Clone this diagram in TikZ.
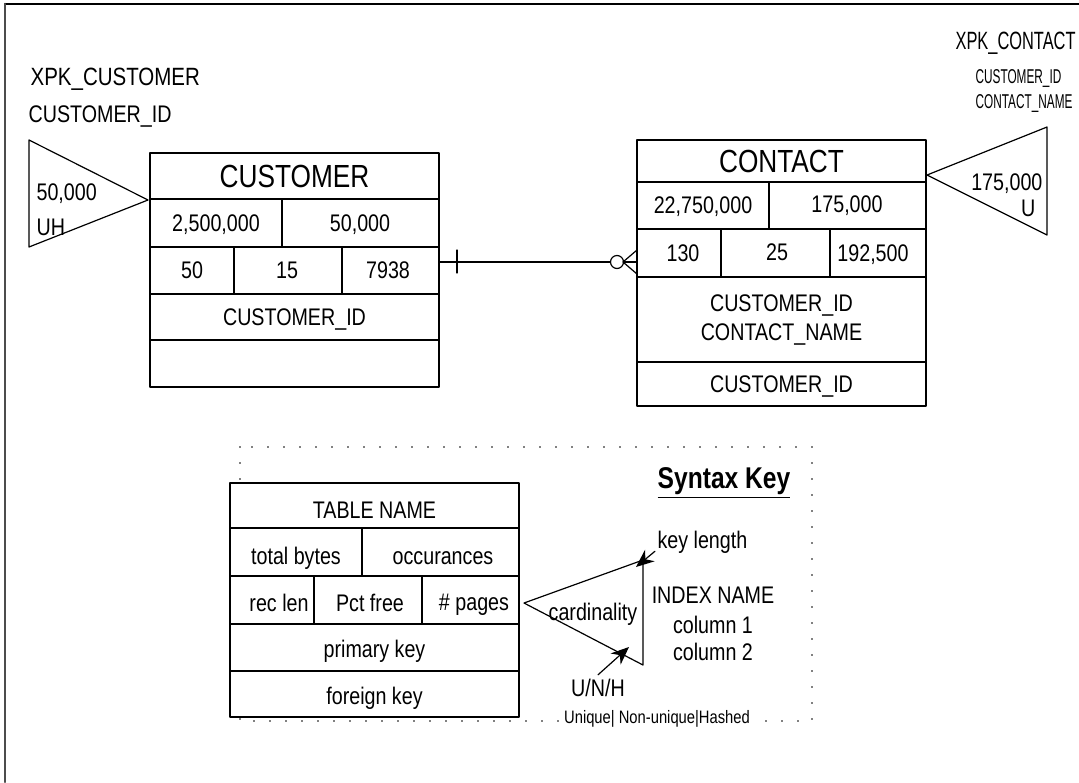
\documentclass[tikz,border=0pt]{standalone}
\usepackage{graphicx}
\usepackage{fontspec}
\setmainfont{Liberation Sans}[FakeStretch=0.82]
\usetikzlibrary{arrows.meta}
\newcommand\squeezed[2]{\scalebox{#1}[1]{#2}}

\begin{document}
\begin{tikzpicture}[x = 0.5pt, y = -0.5pt, line cap = round, line join = round, line width = 0.6pt,
        cell/.style = {inner sep = 0pt, text height = 8.6pt, text depth = 0pt, font = \fontsize{12}{14}\selectfont},
        tabtitle/.style = {inner sep = 0pt, text height = 11.5pt, text depth = 0pt, font = \fontsize{16}{18}\selectfont},
        idxtitle/.style = {inner sep = 0pt, text height = 9pt, text depth = 0pt, font = \fontsize{12.5}{15}\selectfont},
        idxsmall/.style = {inner sep = 0pt, text height = 7.2pt, text depth = 0pt, font = \fontsize{10}{12}\selectfont},
        tiny/.style = {inner sep = 0pt, text height = 6.5pt, text depth = 0pt, font = \fontsize{9}{11}\selectfont},
        pointer/.style = {-{Stealth[length = 9pt, width = 7.5pt]}}]
        %
        \useasboundingbox (0, 0) rectangle (1079, 782);
        \def\CustL{150}
        \def\CustR{439}
        \def\ContL{637}
        \def\ContR{926}
        \def\LinkY{262}

        % frame
        \draw [line width = 1pt] (5, 4) -- (1079, 4);
        \draw [line width = 1.3pt, black!70] (5, 4) -- (5, 782);

        % customer
        \begin{scope}[local bounding box = customer]
            \draw (\CustL, 153) rectangle (\CustR, 387);
            \foreach \y in {199, 247, 294, 340}
                \draw (\CustL, \y) -- (\CustR, \y);
            \draw (282, 199) -- (282, 247);
            \foreach \x in {234, 342}
                \draw (\x, 247) -- (\x, 294);
            \node [tabtitle] (cust-name) at (294.5, 176) {CUSTOMER};
            \foreach[count = \i] \x/\y/\txt in {216/223/{2,500,000}, 360/223/{50,000}, 192/270/50, 287/270/15, 388/270/7938, 294.5/317/CUSTOMER\_ID}
                \node [cell] (cust-\i) at (\x, \y) {\txt};
            \coordinate (cust-link) at (\CustR, \LinkY);
        \end{scope}

        % xpk_customer
        \draw (29, 140) -- (148, 200) -- (29, 247) -- cycle;
        \node [cell, anchor = west] (xcust-card) at (36, 192) {50,000};
        \node [cell, anchor = west] (xcust-kind) at (36, 227) {UH};
        \node [idxtitle, anchor = west] (xcust-name) at (30, 76) {XPK\_CUSTOMER};
        \node [cell, anchor = west] (xcust-col) at (28, 114) {CUSTOMER\_ID};

        % contact
        \begin{scope}[local bounding box = contact]
            \draw (\ContL, 140) rectangle (\ContR, 406);
            \foreach \y in {182, 229, 277, 362}
                \draw (\ContL, \y) -- (\ContR, \y);
            \draw (769, 182) -- (769, 229);
            \foreach \x in {721, 830}
                \draw (\x, 229) -- (\x, 277);
            \node [tabtitle] (cont-name) at (781.5, 161) {CONTACT};
            \foreach[count = \i] \x/\y/\txt in {703/205/{22,750,000}, 847/204/{175,000}, 683/253/130, 777/252/25, 873/253/{192,500}, 781.5/303/CUSTOMER\_ID, 781.5/332/CONTACT\_NAME, 781.5/384/CUSTOMER\_ID}
                \node [cell] (cont-\i) at (\x, \y) {\txt};
            \coordinate (cont-link) at (\ContL, \LinkY);
        \end{scope}

        % xpk_contact
        \draw (927, 175) -- (1047, 127) -- (1047, 235) -- cycle;
        \node [cell, anchor = east] (xcont-card) at (1043, 182) {175,000};
        \node [cell, anchor = east] (xcont-kind) at (1036, 208) {U};
        \node [idxtitle, anchor = west] (xcont-name) at (955, 40) {\squeezed{0.8}{XPK\_CONTACT}};
        \node [idxsmall, anchor = west] (xcont-col1) at (975, 76) {\squeezed{0.72}{CUSTOMER\_ID}};
        \node [idxsmall, anchor = west] (xcont-col2) at (975, 101) {\squeezed{0.72}{CONTACT\_NAME}};

        % one to many
        \draw (cust-link) -- (cont-link);
        \draw (cust-link) ++(18, -12) -- ++(0, 23);
        \draw [fill = white] (cont-link) ++(-20, 0) circle [radius = 6.5];
        \draw (cont-link) ++(-14, 0) -- ++(14, -12);
        \draw (cont-link) ++(-14, 0) -- ++(14, 12);

        % syntax key
        \draw [dash pattern = on 0pt off 8pt, line width = 0.8pt] (240, 447) rectangle (812, 721);
        \node [inner sep = 0pt, font = \fontsize{15}{17}\selectfont\bfseries] (key-title) at (724, 483) {\underline{Syntax Key}};
        \begin{scope}[local bounding box = sample]
            \draw [fill = white] (230, 483) rectangle (519, 717);
            \foreach \y in {528, 576, 624, 671}
                \draw (230, \y) -- (519, \y);
            \draw (362, 528) -- (362, 576);
            \foreach \x in {314, 422}
                \draw (\x, 576) -- (\x, 624);
            \foreach[count = \i] \x/\y/\txt in {374.5/510/TABLE NAME, 296/556/total bytes, 443/556/occurances, 279/603/rec len, 370/603/Pct free, 474/602/\# pages, 374.5/649/primary key, 374.5/696/foreign key}
                \node [cell] (sample-\i) at (\x, \y) {\txt};
        \end{scope}
        \draw (524, 603) -- (643, 560) -- (643, 665) -- cycle;
        \node [cell] (card) at (593, 612) {cardinality};
        \node [cell, anchor = west, inner sep = 1pt] (keylen) at (655, 540) {key length};
        \coordinate (keylen-tip) at (636, 567);
        \draw [pointer] (keylen.south west) -- (keylen-tip);
        \node [cell, inner sep = 2pt] (unh) at (598, 688) {U/N/H};
        \coordinate (unh-tip) at (629, 647);
        \draw [pointer] (unh.north) -- (unh-tip);
        \foreach[count = \i] \y/\txt in {595/INDEX NAME, 625/column 1, 652/column 2}
            \node [cell] (idx-\i) at (713, \y) {\txt};
        \node [tiny, fill = white, inner sep = 1.5pt] (kinds) at (657, 717) {Unique| Non-unique|Hashed};
    \end{tikzpicture}
\end{document}
